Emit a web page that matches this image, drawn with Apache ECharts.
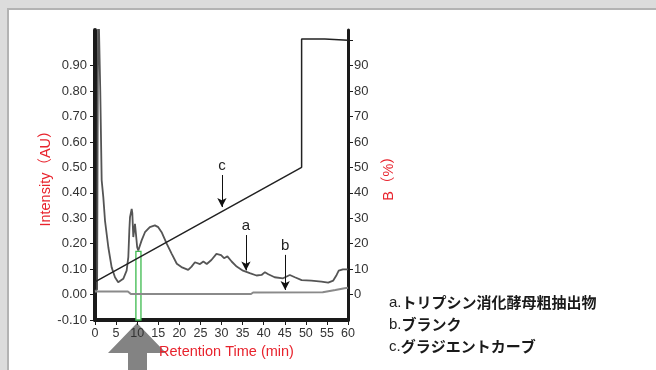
<!DOCTYPE html>
<html>
<head>
<meta charset="utf-8">
<script src="https://cdn.jsdelivr.net/npm/echarts@6/dist/echarts.min.js"></script>
<style>
  html, body { margin: 0; padding: 0; width: 656px; height: 370px; overflow: hidden; background: #dcdcdc; }
  #panel { position: absolute; left: 7px; top: 8px; width: 700px; height: 400px; background: #ffffff; border-left: 2px solid #b3b3b3; border-top: 2px solid #b3b3b3; }
  #chart { position: absolute; left: 0; top: 0; width: 656px; height: 370px; }
</style>
</head>
<body>
<div id="panel"></div>
<div id="chart"></div>
<script>
// ---- data ----
const xTicks = [0, 5, 10, 15, 20, 25, 30, 35, 40, 45, 50, 55, 60];
const leftTicks = [-0.1, 0, 0.1, 0.2, 0.3, 0.4, 0.5, 0.6, 0.7, 0.8, 0.9];
const rightTicks = [0, 10, 20, 30, 40, 50, 60, 70, 80, 90, 100];
const rightLabels = [0, 10, 20, 30, 40, 50, 60, 70, 80, 90];

// a. trypsin-digested yeast crude extract (time min, intensity AU)
const sampleTime = [0, 0.5, 0.75, 1.1, 1.25, 1.58, 1.97, 2.37, 3.16, 3.95, 4.74, 5.5, 5.9, 6.7, 7.5, 7.9, 8.14, 8.3, 8.7, 8.85, 9.08, 9.48, 9.7, 10.0, 10.26, 11.06, 11.85, 13.0, 14.2, 15.0, 15.8, 17.0, 18.2, 19.4, 20.5, 22.1, 22.9, 23.7, 24.9, 25.7, 26.5, 27.6, 28.8, 29.9, 30.6, 31.4, 32.4, 33.6, 35.1, 36.7, 38.3, 39.5, 40.3, 41.1, 42.6, 44.6, 46.2, 47.4, 49.0, 51.3, 53.7, 55.3, 56.5, 57.3, 57.8, 58.8, 60];
const sampleAU = [0.012, 0.02, 1.2, 1.2, 0.8, 0.45, 0.383, 0.291, 0.186, 0.107, 0.068, 0.048, 0.044, 0.062, 0.094, 0.147, 0.252, 0.304, 0.337, 0.32, 0.226, 0.278, 0.24, 0.186, 0.173, 0.213, 0.245, 0.265, 0.272, 0.265, 0.245, 0.2, 0.16, 0.121, 0.108, 0.097, 0.11, 0.127, 0.12, 0.13, 0.12, 0.136, 0.16, 0.155, 0.143, 0.15, 0.13, 0.11, 0.094, 0.084, 0.075, 0.077, 0.088, 0.08, 0.068, 0.064, 0.077, 0.068, 0.057, 0.055, 0.051, 0.047, 0.055, 0.077, 0.094, 0.099, 0.099];

// b. blank
const blankTime = [0, 7.8, 8.5, 37, 37.5, 54, 57, 59.2, 60];
const blankAU = [0.012, 0.012, 0.002, 0.002, 0.008, 0.009, 0.018, 0.025, 0.027];

// c. gradient curve (B %)
const gradTime = [0, 49, 49, 54.5, 54.6, 60];
const gradB = [5, 50, 100.5, 100.5, 100, 100];

// annotation arrows
const arrowC = { t: 30.1, from: 47, to: 34.4, text: 'c' };
const arrowA = { t: 35.8, from: 0.234, to: 0.095, text: 'a' };
const arrowB = { t: 45.1, from: 0.156, to: 0.018, text: 'b' };
const greenBand = { t0: 9.7, t1: 10.9, top: 0.17 };

const legendLines = [
  ['a.', 'トリプシン消化酵母粗抽出物'],
  ['b.', 'ブランク'],
  ['c.', 'グラジエントカーブ']
];

function zip(xs, ys) { return xs.map((x, i) => [x, ys[i]]); }

const axisColor = '#1a1a1a';
const labelFont = { color: '#333', fontFamily: 'Liberation Sans, Arial, sans-serif' };
const red = '#e8232d';

function arrowMark(a) {
  return {
    silent: true,
    animation: false,
    symbol: ['none', 'arrow'],
    symbolSize: [7, 9],
    lineStyle: { color: '#111', width: 1, type: 'solid' },
    label: { show: true, position: 'start', distance: 2, formatter: a.text, color: '#222', fontSize: 15, fontFamily: 'Liberation Sans, Arial, sans-serif' },
    emphasis: { disabled: true },
    data: [[{ coord: [a.t, a.from] }, { coord: [a.t, a.to] }]]
  };
}

const chart = echarts.init(document.getElementById('chart'), null, { renderer: 'canvas' });

const option = {
  animation: false,
  backgroundColor: 'transparent',
  grid: { left: 95, right: 308, top: 30, bottom: 50, containLabel: false },
  xAxis: {
    type: 'value', min: 0, max: 60, interval: 5,
    axisLine: { show: true, onZero: false, lineStyle: { color: axisColor, width: 4 } },
    axisTick: { show: true, length: 5, lineStyle: { color: axisColor, width: 1 } },
    axisLabel: Object.assign({ fontSize: 12.5, margin: 7, showMinLabel: true, showMaxLabel: true }, labelFont),
    splitLine: { show: false },
    name: 'Retention Time (min)',
    nameLocation: 'middle',
    nameGap: 24,
    nameTextStyle: { color: red, fontSize: 14.5, fontFamily: 'Liberation Sans, Arial, sans-serif', padding: [0, 0, 0, 10] }
  },
  yAxis: [
    {
      type: 'value', min: -0.1, max: 1.04, interval: 0.1, position: 'left',
      axisLine: { show: true, onZero: false, lineStyle: { color: axisColor, width: 4 } },
      axisTick: { show: true, length: 5, customValues: leftTicks, lineStyle: { color: axisColor, width: 1 } },
      axisLabel: Object.assign({ fontSize: 13, margin: 8, customValues: leftTicks, formatter: v => v.toFixed(2) }, labelFont),
      splitLine: { show: false },
      name: 'Intensity（AU）',
      nameLocation: 'middle',
      nameGap: 42,
      nameRotate: 90,
      nameTextStyle: { color: red, fontSize: 14.5, fontFamily: 'Liberation Sans, Noto Sans CJK JP, sans-serif' }
    },
    {
      type: 'value', min: -10, max: 104, interval: 10, position: 'right',
      axisLine: { show: true, onZero: false, lineStyle: { color: axisColor, width: 3 } },
      axisTick: { show: true, length: 5, customValues: rightTicks, lineStyle: { color: axisColor, width: 1 } },
      axisLabel: Object.assign({ fontSize: 13, margin: 6, customValues: rightLabels, formatter: v => String(Math.round(v)) }, labelFont),
      splitLine: { show: false },
      name: 'B（%）',
      nameLocation: 'middle',
      nameGap: 34,
      nameRotate: 90,
      nameTextStyle: { color: red, fontSize: 14.5, fontFamily: 'Liberation Sans, Noto Sans CJK JP, sans-serif' }
    }
  ],
  series: [
    {
      name: 'a', type: 'line', yAxisIndex: 0, z: 2, clip: true,
      showSymbol: false, symbol: 'none',
      lineStyle: { color: '#555', width: 1.8 },
      data: zip(sampleTime, sampleAU),
      markLine: arrowMark(arrowA)
    },
    {
      name: 'b', type: 'line', yAxisIndex: 0, z: 3, clip: true,
      showSymbol: false, symbol: 'none',
      lineStyle: { color: '#8a8a8a', width: 2 },
      data: zip(blankTime, blankAU),
      markLine: arrowMark(arrowB),
      markArea: {
        silent: true,
        itemStyle: { color: '#ffffff', borderColor: '#3dba4e', borderWidth: 1.3 },
        emphasis: { disabled: true },
        data: [[{ coord: [greenBand.t0, -0.1] }, { coord: [greenBand.t1, greenBand.top] }]]
      }
    },
    {
      name: 'c', type: 'line', yAxisIndex: 1, z: 4, clip: true,
      showSymbol: false, symbol: 'none',
      lineStyle: { color: '#222', width: 1.5 },
      data: zip(gradTime, gradB),
      markLine: arrowMark(arrowC)
    }
  ],
  graphic: [
    {
      type: 'polygon', z: -1, silent: true,
      shape: { points: [[137, 323], [108, 353], [128, 353], [128, 372], [147, 372], [147, 353], [166, 353]] },
      style: { fill: '#838383' }
    }
  ].concat(legendLines.map((l, i) => ({
    type: 'text', left: 389, top: 295 + i * 22, silent: true,
    style: {
      text: '{n|' + l[0] + '}{j|' + l[1] + '}',
      rich: {
        n: { fontSize: 15, fontFamily: 'Liberation Sans, Arial, sans-serif', fill: '#222', fontWeight: 'normal' },
        j: { fontSize: 15, fontFamily: 'Noto Sans CJK JP, sans-serif', fill: '#1a1a1a', fontWeight: 'bold' }
      }
    }
  })))
};

chart.setOption(option);
</script>
</body>
</html>
